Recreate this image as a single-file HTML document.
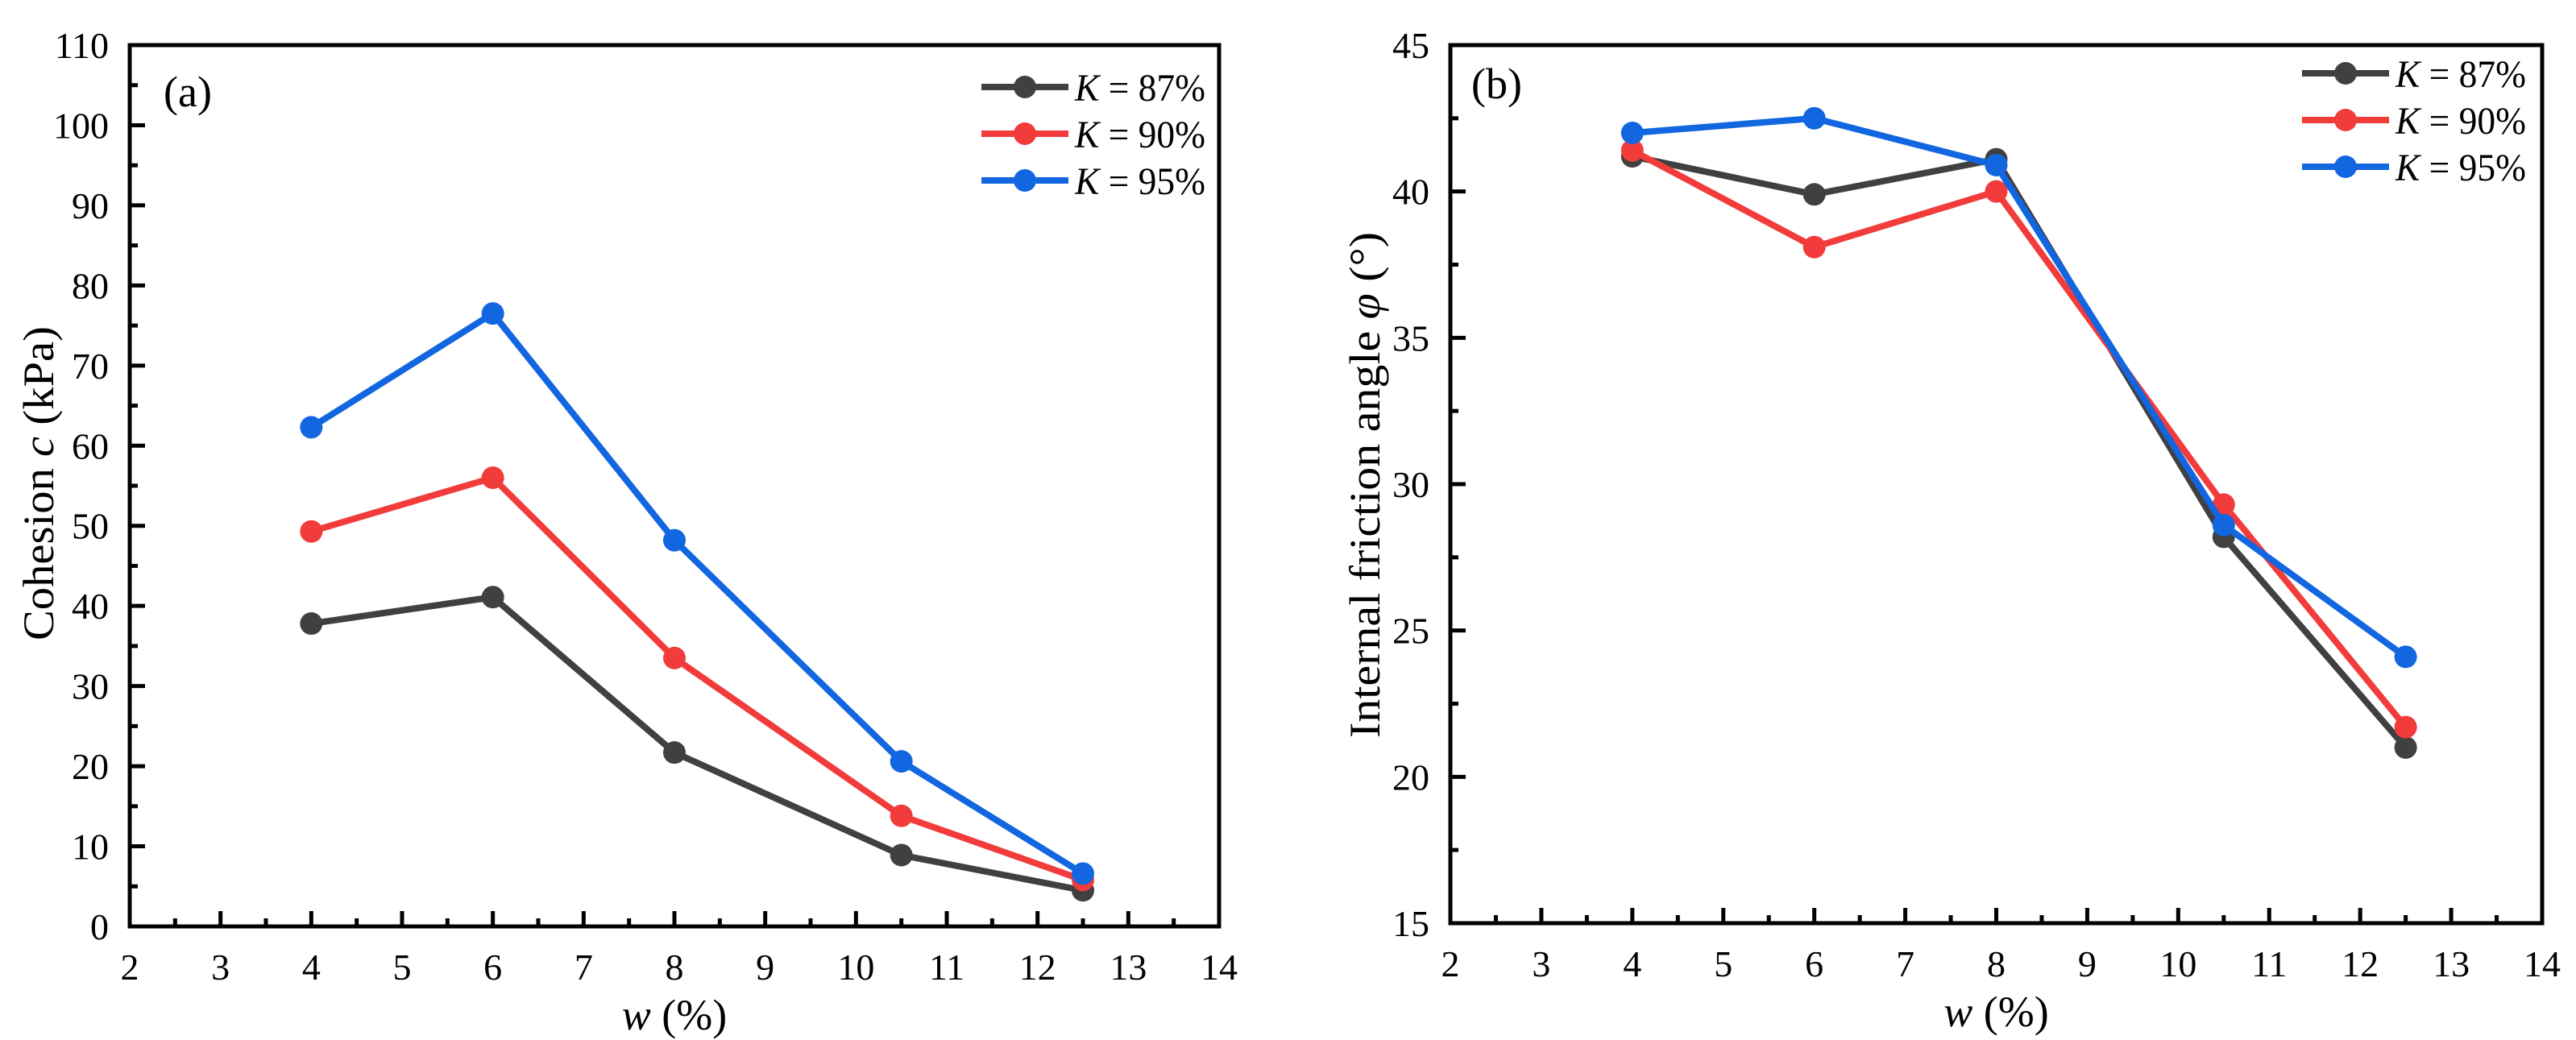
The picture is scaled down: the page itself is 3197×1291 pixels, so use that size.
<!DOCTYPE html>
<html><head><meta charset="utf-8"><style>
html,body{margin:0;padding:0;background:#fff}
svg{display:block}
svg text, svg tspan{font-family:"Liberation Serif","DejaVu Serif",serif;fill:#000}
</style></head><body>
<svg id="chart" width="3197" height="1291" viewBox="0 0 3197 1291" font-family="Liberation Serif, DejaVu Serif, serif" xmlns="http://www.w3.org/2000/svg"></svg>
<script>
const xCats = [4, 6, 8, 10.5, 12.5];
const seriesNames = ["K = 87%", "K = 90%", "K = 95%"];
const cohesion87 = [37.8, 41.1, 21.7, 8.9, 4.5];
const cohesion90 = [49.3, 56.0, 33.5, 13.8, 5.8];
const cohesion95 = [62.3, 76.5, 48.2, 20.6, 6.6];
const phi87 = [41.2, 39.9, 41.1, 28.2, 21.0];
const phi90 = [41.4, 38.1, 40.0, 29.3, 21.7];
const phi95 = [42.0, 42.5, 40.9, 28.6, 24.1];
const xTicks = [2,3,4,5,6,7,8,9,10,11,12,13,14];
const yTicksA = [0,10,20,30,40,50,60,70,80,90,100,110];
const yTicksB = [15,20,25,30,35,40,45];

const colors = ["#404040", "#f23b3b", "#1266e0"];
const NS = "http://www.w3.org/2000/svg";
const svg = document.getElementById("chart");
const FF = "Liberation Serif, DejaVu Serif, serif";
function el(tag, attrs, parent){const e=document.createElementNS(NS,tag);for(const k in attrs)e.setAttribute(k,attrs[k]);if(tag==="text")e.setAttribute("font-family",FF);(parent||svg).appendChild(e);return e;}

function panel(cfg){
  const g = el("g",{});
  
  
  const {L,R,T,B,xmin,xmax,ymin,ymax} = cfg;
  const sx = v => L + (v - xmin) / (xmax - xmin) * (R - L);
  const sy = v => B - (v - ymin) / (ymax - ymin) * (B - T);
  const frame = el("rect",{x:L,y:T,width:R-L,height:B-T,fill:"none",stroke:"#000","stroke-width":5},g);
  
  
  xTicks.forEach((t,i)=>{
    const x = sx(t);
    const tk = el("line",{x1:x,x2:x,y1:B,y2:B-19,stroke:"#000","stroke-width":5},g);
    
    
    if(i<xTicks.length-1){
      const xm = sx(t+0.5);
      const mk = el("line",{x1:xm,x2:xm,y1:B,y2:B-10,stroke:"#000","stroke-width":5},g);
      
      
    }
    const lb = el("text",{x:x,y:B+66,"font-size":46,"text-anchor":"middle"},g);
    lb.textContent = t;
    
    
  });
  const yt = cfg.yTicks;
  yt.forEach((t,i)=>{
    const y = sy(t);
    const tk = el("line",{x1:L,x2:L+19,y1:y,y2:y,stroke:"#000","stroke-width":5},g);
    
    
    if(i<yt.length-1){
      const ym = sy((t+yt[i+1])/2);
      const mk = el("line",{x1:L,x2:L+10,y1:ym,y2:ym,stroke:"#000","stroke-width":5},g);
      
      
    }
    const lb = el("text",{x:L-26,y:y+16,"font-size":46,"text-anchor":"end"},g);
    lb.textContent = t;
    
    
  });
  cfg.series.forEach((vals,si)=>{
    const pts = vals.map((v,i)=>sx(xCats[i])+","+sy(v)).join(" ");
    const pl = el("polyline",{points:pts,fill:"none",stroke:colors[si],"stroke-width":8,"stroke-linejoin":"round"},g);
    
    
    vals.forEach((v,i)=>{
      const c = el("circle",{cx:sx(xCats[i]),cy:sy(v),r:14,fill:colors[si]},g);
      
      
    });
  });
  seriesNames.forEach((n,si)=>{
    const y = cfg.legY + si*58;
    const ln = el("line",{x1:cfg.legX,x2:cfg.legX+108,y1:y,y2:y,stroke:colors[si],"stroke-width":8},g);
    
    
    const c = el("circle",{cx:cfg.legX+54,cy:y,r:14,fill:colors[si]},g);
    
    
    const tx = el("text",{x:cfg.legX+116,y:y+17,"font-size":48,textLength:162,lengthAdjust:"spacingAndGlyphs"},g);
    
    
    const it = el("tspan",{"font-style":"italic"},tx); it.textContent="K";
    const rest = el("tspan",{},tx); rest.textContent = n.slice(1);
  });
  const pl = el("text",{x:cfg.panelX,y:cfg.panelY,"font-size":54},g);
  pl.textContent = cfg.panelLabel;
  
  
  const xt = el("text",{x:(L+R)/2,y:B+128,"font-size":54,"text-anchor":"middle"},g);
  
  
  const xi = el("tspan",{"font-style":"italic"},xt); xi.textContent="w";
  const xr = el("tspan",{},xt); xr.textContent=" (%)";
  const ytl = el("text",{x:0,y:0,"font-size":54,"text-anchor":"middle",textLength:cfg.yTitleLen,lengthAdjust:"spacingAndGlyphs",transform:`translate(${cfg.yTitleX},${cfg.yTitleY}) rotate(-90)`},g);
  
  
  cfg.yTitle.forEach(p=>{const s=el("tspan",p.i?{"font-style":"italic"}:{},ytl); s.textContent=p.t;});
}

panel({name:"cohesion-panel",L:161,R:1513,T:56,B:1150,xmin:2,xmax:14,ymin:0,ymax:110,yTicks:yTicksA,
  series:[cohesion87,cohesion90,cohesion95],legX:1218,legY:108,panelX:203,panelY:132,panelLabel:"(a)",
  yTitleX:66,yTitleY:600,yTitleLen:390,yTitle:[{t:"Cohesion "},{t:"c",i:true},{t:" (kPa)"}]});
panel({name:"friction-panel",L:1800,R:3155,T:56,B:1146,xmin:2,xmax:14,ymin:15,ymax:45,yTicks:yTicksB,
  series:[phi87,phi90,phi95],legX:2857,legY:91,panelX:1826,panelY:122,panelLabel:"(b)",
  yTitleX:1712,yTitleY:602,yTitleLen:628,yTitle:[{t:"Internal friction angle "},{t:"φ",i:true},{t:" (°)"}]});
</script>
</body></html>
